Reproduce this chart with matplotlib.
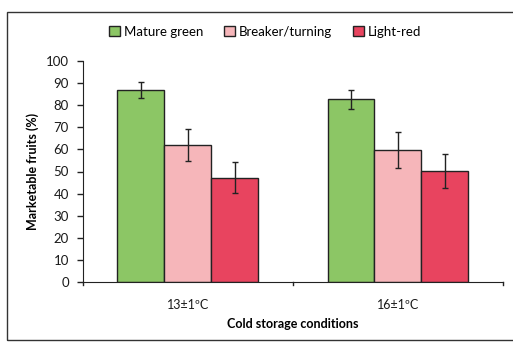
import matplotlib
matplotlib.use("Agg")
import matplotlib.pyplot as plt
import numpy as np
from matplotlib.patches import Rectangle

categories = ["13±1ºC", "16±1ºC"]
series = ["Mature green", "Breaker/turning", "Light-red"]
mature_green = [87.0, 82.7]
breaker_turning = [62.0, 59.6]
light_red = [47.2, 50.2]
err_mature_green = [3.7, 4.3]
err_breaker_turning = [7.2, 8.1]
err_light_red = [7.1, 7.8]
yticks = list(range(0, 101, 10))

values = [mature_green, breaker_turning, light_red]
errors = [err_mature_green, err_breaker_turning, err_light_red]
colors = ["#8cc665", "#f6b6ba", "#e8445f"]

plt.rcParams['font.family'] = ['Lato', 'DejaVu Sans']

fig = plt.figure(figsize=(5.13, 3.42), dpi=100)
fig.patches.append(Rectangle((7/513, 0.005), 1.2, 1 - 12/342 - 0.005, transform=fig.transFigure,
                             fill=False, edgecolor="#333333", linewidth=1.0))
ax = fig.add_axes([82.7/513, 1 - 282/342, (503 - 82.7)/513, (282 - 61)/342])

x = np.arange(len(categories))
w = 0.223
handles = []
for i, (vals, errs, c, name) in enumerate(zip(values, errors, colors, series)):
    b = ax.bar(x + (i - 1) * w, vals, w, color=c, edgecolor="#222222", linewidth=1.0,
               yerr=errs, capsize=2.5, error_kw=dict(ecolor="#222222", elinewidth=1.0, capthick=1.0),
               label=name, zorder=2)
    handles.append(b)

ax.set_xlim(-0.5, 1.5)
ax.set_ylim(0, 100)
ax.set_yticks(yticks)
ax.set_yticklabels([str(t) for t in yticks], fontsize=9.5, color="#1a1a1a")
ax.set_xticks(x)
ax.set_xticklabels(categories, fontsize=9, color="#1a1a1a")
ax.tick_params(axis='x', length=0, pad=12)
ax.tick_params(axis='y', direction='out', length=4, width=1, color="#222222", pad=6)
for xb in [-0.5, 0.5, 1.5]:
    ax.plot([xb, xb], [0, -1.5], color="#222222", lw=1, clip_on=False)
for s in ["top", "right"]:
    ax.spines[s].set_visible(False)
ax.spines["left"].set_color("#222222")
ax.spines["bottom"].set_color("#222222")
ax.set_ylabel("Marketable fruits (%)", fontsize=9, fontweight='bold', labelpad=5)
ax.set_xlabel("Cold storage conditions", fontsize=9, fontweight='bold', labelpad=5)

fig.legend(handles=handles, labels=series, loc='center', bbox_to_anchor=(265/513, 1 - 32/342),
           ncol=3, frameon=False, fontsize=9.5, handlelength=0.8, handleheight=0.8,
           handletextpad=0.3, columnspacing=1.6)

fig.savefig("out.png", dpi=100)
